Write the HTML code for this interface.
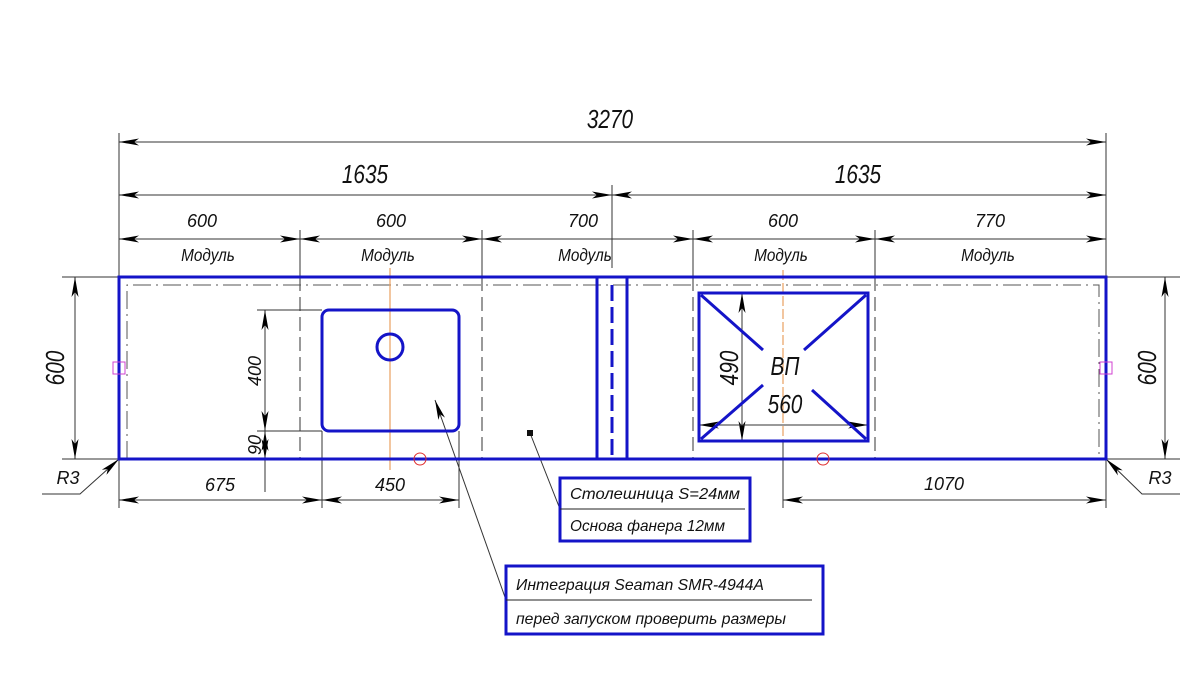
<!DOCTYPE html>
<html><head><meta charset="utf-8"><style>
html,body{margin:0;padding:0;background:#fff;}
svg{display:block;}
text{font-family:"Liberation Sans","DejaVu Sans",sans-serif;font-style:italic;fill:#111;}
</style></head><body>
<svg width="1200" height="680" viewBox="0 0 1200 680" xmlns="http://www.w3.org/2000/svg">
<defs>
<marker id="a" viewBox="0 0 20 7" refX="20" refY="3.5" markerWidth="20" markerHeight="7" markerUnits="userSpaceOnUse" orient="auto-start-reverse">
<path d="M0,0 L20,3.5 L0,7 L5,3.5 Z" fill="#000"/>
</marker>
</defs>
<rect width="1200" height="680" fill="#fff"/>
<g stroke="#333" stroke-width="1" fill="none">
<line x1="119" y1="133" x2="119" y2="277"/>
<line x1="1106" y1="133" x2="1106" y2="277"/>
<line x1="612" y1="185" x2="612" y2="268"/>
<line x1="300" y1="230" x2="300" y2="277"/>
<line x1="482" y1="230" x2="482" y2="277"/>
<line x1="693" y1="230" x2="693" y2="277"/>
<line x1="875" y1="230" x2="875" y2="277"/>
<g stroke-dasharray="14,6">
<line x1="300" y1="277" x2="300" y2="459"/>
<line x1="482" y1="277" x2="482" y2="459"/>
<line x1="693" y1="277" x2="693" y2="459"/>
<line x1="875" y1="277" x2="875" y2="459"/>
</g>
<path d="M127,459 L127,285 L1099,285 L1099,459" stroke="#555" stroke-dasharray="18,5,2,5"/>
<line x1="119" y1="142" x2="1106" y2="142" marker-start="url(#a)" marker-end="url(#a)"/>
<line x1="119" y1="195" x2="612" y2="195" marker-start="url(#a)" marker-end="url(#a)"/>
<line x1="612" y1="195" x2="1106" y2="195" marker-start="url(#a)" marker-end="url(#a)"/>
<line x1="119" y1="239" x2="300" y2="239" marker-start="url(#a)" marker-end="url(#a)"/>
<line x1="300" y1="239" x2="482" y2="239" marker-start="url(#a)" marker-end="url(#a)"/>
<line x1="482" y1="239" x2="693" y2="239" marker-start="url(#a)" marker-end="url(#a)"/>
<line x1="693" y1="239" x2="875" y2="239" marker-start="url(#a)" marker-end="url(#a)"/>
<line x1="875" y1="239" x2="1106" y2="239" marker-start="url(#a)" marker-end="url(#a)"/>
<line x1="62" y1="277" x2="119" y2="277"/>
<line x1="62" y1="459" x2="119" y2="459"/>
<line x1="75" y1="277" x2="75" y2="459" marker-start="url(#a)" marker-end="url(#a)"/>
<line x1="1106" y1="277" x2="1180" y2="277"/>
<line x1="1106" y1="459" x2="1180" y2="459"/>
<line x1="1165" y1="277" x2="1165" y2="459" marker-start="url(#a)" marker-end="url(#a)"/>
<line x1="257" y1="310" x2="322" y2="310"/>
<line x1="257" y1="431" x2="322" y2="431"/>
<line x1="265" y1="310" x2="265" y2="431" marker-start="url(#a)" marker-end="url(#a)"/>
<line x1="265" y1="431" x2="265" y2="459" marker-start="url(#a)" marker-end="url(#a)"/>
<line x1="265" y1="459" x2="265" y2="492"/>
<line x1="119" y1="459" x2="119" y2="508"/>
<line x1="322" y1="431" x2="322" y2="508"/>
<line x1="459" y1="431" x2="459" y2="508"/>
<line x1="119" y1="500" x2="322" y2="500" marker-start="url(#a)" marker-end="url(#a)"/>
<line x1="322" y1="500" x2="459" y2="500" marker-start="url(#a)" marker-end="url(#a)"/>
<line x1="783" y1="441" x2="783" y2="508"/>
<line x1="1106" y1="459" x2="1106" y2="508"/>
<line x1="783" y1="500" x2="1106" y2="500" marker-start="url(#a)" marker-end="url(#a)"/>
<line x1="742" y1="293" x2="742" y2="441" marker-start="url(#a)" marker-end="url(#a)"/>
<line x1="699" y1="425" x2="868" y2="425" marker-start="url(#a)" marker-end="url(#a)"/>
<path d="M119,459 L80,494 L42,494" marker-start="url(#a)"/>
<path d="M1106,459 L1142,494 L1180,494" marker-start="url(#a)"/>
<line x1="530" y1="433" x2="560" y2="509"/>
<line x1="435" y1="400" x2="506" y2="600" marker-start="url(#a)"/>
</g>
<rect x="527" y="430" width="6" height="6" fill="#111"/>
<g stroke="#e8a060" stroke-width="1.2">
<line x1="390" y1="268" x2="390" y2="470"/>
<line x1="783" y1="270" x2="783" y2="441" stroke-dasharray="10,3"/>
</g>
<g stroke="#1414c8" stroke-width="3" fill="none">
<rect x="119" y="277" width="987" height="182"/>
<line x1="597" y1="277" x2="597" y2="459"/>
<line x1="627" y1="277" x2="627" y2="459"/>
<line x1="612" y1="285" x2="612" y2="459" stroke-dasharray="16,6"/>
<rect x="322" y="310" width="137" height="121" rx="7"/>
<circle cx="390" cy="347" r="13"/>
<rect x="699" y="293" width="169" height="148"/>
<line x1="701" y1="295" x2="763" y2="350"/>
<line x1="866" y1="295" x2="804" y2="350"/>
<line x1="701" y1="439" x2="763" y2="385"/>
<line x1="866" y1="439" x2="812" y2="390"/>
<rect x="560" y="478" width="190" height="63"/>
<rect x="506" y="566" width="317" height="68"/>
</g>
<line x1="560" y1="509" x2="745" y2="509" stroke="#222" stroke-width="1"/>
<line x1="506" y1="600" x2="812" y2="600" stroke="#222" stroke-width="1"/>
<circle cx="420" cy="459" r="6" stroke="#e03030" fill="none" stroke-width="1"/>
<circle cx="823" cy="459" r="6" stroke="#e03030" fill="none" stroke-width="1"/>
<rect x="113" y="362" width="12" height="12" stroke="#d040d0" fill="none" stroke-width="1"/>
<rect x="1100" y="362" width="12" height="12" stroke="#d040d0" fill="none" stroke-width="1"/>
<g font-size="26" text-anchor="middle">
<text x="610" y="128" transform="translate(610 0) scale(0.8 1) translate(-610 0)">3270</text>
<text x="365" y="183" transform="translate(365 0) scale(0.8 1) translate(-365 0)">1635</text>
<text x="858" y="183" transform="translate(858 0) scale(0.8 1) translate(-858 0)">1635</text>
<text x="785" y="375" transform="translate(785 0) scale(0.8 1) translate(-785 0)">ВП</text>
<text x="785" y="413" transform="translate(785 0) scale(0.8 1) translate(-785 0)">560</text>
<text transform="translate(64 368) rotate(-90) scale(0.8 1)" x="0" y="0">600</text>
<text transform="translate(1156 368) rotate(-90) scale(0.8 1)" x="0" y="0">600</text>
<text transform="translate(738 368) rotate(-90) scale(0.8 1)" x="0" y="0">490</text>
</g>
<g font-size="18" text-anchor="middle">
<text x="202" y="227">600</text>
<text x="391" y="227">600</text>
<text x="583" y="227">700</text>
<text x="783" y="227">600</text>
<text x="990" y="227">770</text>
<text x="208" y="261" transform="translate(208 0) scale(0.85 1) translate(-208 0)">Модуль</text>
<text x="388" y="261" transform="translate(388 0) scale(0.85 1) translate(-388 0)">Модуль</text>
<text x="585" y="261" transform="translate(585 0) scale(0.85 1) translate(-585 0)">Модуль</text>
<text x="781" y="261" transform="translate(781 0) scale(0.85 1) translate(-781 0)">Модуль</text>
<text x="988" y="261" transform="translate(988 0) scale(0.85 1) translate(-988 0)">Модуль</text>
<text x="220" y="491">675</text>
<text x="390" y="491">450</text>
<text x="944" y="490">1070</text>
<text x="68" y="484">R3</text>
<text x="1160" y="484">R3</text>
<text transform="translate(261 371) rotate(-90)" x="0" y="0">400</text>
<text transform="translate(261 445) rotate(-90)" x="0" y="0">90</text>
</g>
<g font-size="16">
<text x="570" y="499" textLength="170" lengthAdjust="spacingAndGlyphs">Столешница S=24мм</text>
<text x="570" y="531" textLength="155" lengthAdjust="spacingAndGlyphs">Основа фанера 12мм</text>
<text x="516" y="590" textLength="248" lengthAdjust="spacingAndGlyphs">Интеграция Seaman SMR-4944A</text>
<text x="516" y="624" textLength="270" lengthAdjust="spacingAndGlyphs">перед запуском проверить размеры</text>
</g>
</svg>
</body></html>
